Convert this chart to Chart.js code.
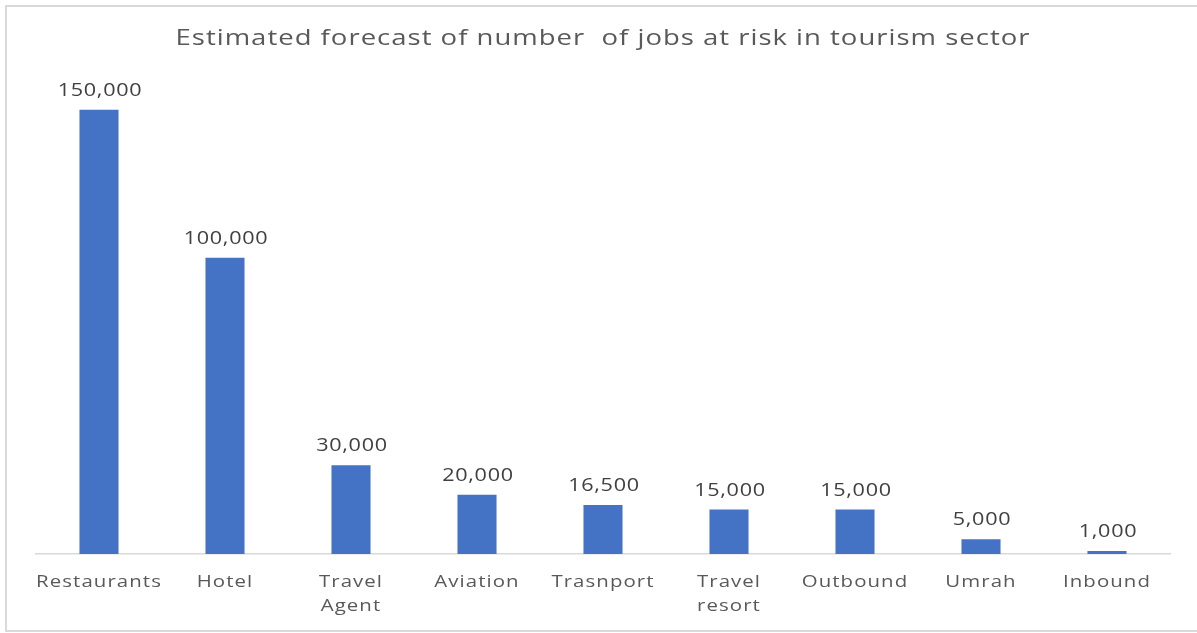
<!DOCTYPE html>
<html>
<head>
<meta charset="utf-8">
<script src="https://cdn.jsdelivr.net/npm/chart.js@4"></script>
<style>
  html, body { margin: 0; padding: 0; background: #ffffff; }
  #wrap { position: relative; width: 1197px; height: 633px; }
</style>
</head>
<body>
<div id="wrap"><canvas id="c" width="1197" height="633"></canvas></div>
<script>
const chartTitle = 'Estimated forecast of number  of jobs at risk in tourism sector';
const categories = [
  'Restaurants', 'Hotel', ['Travel', 'Agent'], 'Aviation', 'Trasnport',
  ['Travel', 'resort'], 'Outbound', 'Umrah', 'Inbound'
];
const jobsAtRisk = [150000, 100000, 30000, 20000, 16500, 15000, 15000, 5000, 1000];

const FONT = '"Open Sans", "Noto Sans", sans-serif';
const TEXT_STRETCH = 1.2;

function wideText(ctx, text, x, y, sx) {
  ctx.save();
  ctx.translate(x, y);
  ctx.scale(sx, 1);
  ctx.fillText(text, 0, 0);
  ctx.restore();
}

const framePlugin = {
  id: 'frame',
  beforeDraw(chart) {
    const ctx = chart.ctx;
    ctx.save();
    ctx.fillStyle = '#ffffff';
    ctx.fillRect(0, 0, chart.width, chart.height);
    ctx.strokeStyle = '#d9d9d9';
    ctx.lineWidth = 2;
    ctx.strokeRect(6, 6, chart.width + 10, 625);
    ctx.fillStyle = '#595959';
    ctx.font = '22px ' + FONT;
    ctx.letterSpacing = '0.8px';
    ctx.textAlign = 'center';
    ctx.textBaseline = 'middle';
    wideText(ctx, chartTitle, 603, 39, 1.25);
    ctx.restore();
    ctx.letterSpacing = '0.9px';
  }
};

const valueLabels = {
  id: 'valueLabels',
  afterDatasetsDraw(chart) {
    const ctx = chart.ctx;
    const meta = chart.getDatasetMeta(0);
    const data = chart.data.datasets[0].data;
    ctx.save();
    ctx.fillStyle = '#404040';
    ctx.font = '18px ' + FONT;
    ctx.letterSpacing = '0.6px';
    ctx.textAlign = 'center';
    ctx.textBaseline = 'alphabetic';
    meta.data.forEach((bar, i) => {
      wideText(ctx, data[i].toLocaleString('en-US'), bar.x + 1, bar.y - 14, 1.2);
    });
    ctx.restore();
  }
};

// stretch the category labels horizontally around their own anchor points
function stretchLabels(scale) {
  if (scale._stretched) return;
  scale._stretched = true;
  const origDraw = scale.drawLabels.bind(scale);
  scale.drawLabels = function (area) {
    const ctx = this.ctx;
    const origRotate = ctx.rotate;
    ctx.rotate = function (a) {
      origRotate.call(this, a);
      this.scale(TEXT_STRETCH, 1);
    };
    try { origDraw(area); } finally { ctx.rotate = origRotate; }
  };
}

new Chart(document.getElementById('c'), {
  type: 'bar',
  data: {
    labels: categories,
    datasets: [{
      data: jobsAtRisk,
      backgroundColor: '#4472c4',
      borderWidth: 0,
      categoryPercentage: 1.0,
      barPercentage: 0.31
    }]
  },
  options: {
    responsive: false,
    animation: false,
    events: [],
    layout: { padding: { left: 36, right: 27, top: 80, bottom: 0 } },
    plugins: {
      legend: { display: false },
      title: { display: false },
      tooltip: { enabled: false }
    },
    scales: {
      x: {
        grid: { display: false },
        border: { display: true, color: '#d9d9d9', width: 1.5 },
        ticks: {
          color: '#595959',
          font: { family: FONT, size: 17, lineHeight: 1.4 },
          padding: 8,
          maxRotation: 0,
          autoSkip: false
        },
        afterFit(scale) { scale.height = 79; stretchLabels(scale); }
      },
      y: {
        display: false,
        min: 0,
        max: 160000
      }
    }
  },
  plugins: [framePlugin, valueLabels]
});
</script>
</body>
</html>
